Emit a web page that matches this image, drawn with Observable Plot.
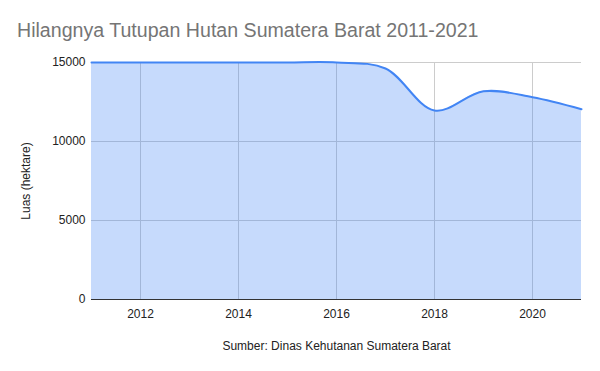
<!DOCTYPE html>
<html>
<head>
<meta charset="utf-8">
<script src="https://cdn.jsdelivr.net/npm/d3@7"></script>
<script src="https://cdn.jsdelivr.net/npm/@observablehq/plot@0.6"></script>
<style>
  body { margin: 0; background: #fff; }
  #wrap { position: relative; width: 600px; height: 371px; }
  #title { position: absolute; left: 17px; top: 19px; font-family: "Liberation Sans", Arial, sans-serif; font-size: 19.6px; color: #757575; white-space: nowrap; }
</style>
</head>
<body>
<div id="wrap">
  <div id="chart"></div>
  <div id="title">Hilangnya Tutupan Hutan Sumatera Barat 2011-2021</div>
</div>
<script>
const years = [2011, 2012, 2013, 2014, 2015, 2016, 2017, 2018, 2019, 2020, 2021];
const luas  = [15000, 15000, 15000, 15000, 15000, 15000, 14620, 11960, 13180, 12800, 12040];
const xTicks = [2012, 2014, 2016, 2018, 2020];
const yTicks = [0, 5000, 10000, 15000];

const data = years.map((year, i) => ({ year, luas: luas[i] }));

const chart = Plot.plot({
  width: 600,
  height: 371,
  marginTop: 62,
  marginBottom: 72,
  marginLeft: 91,
  marginRight: 19,
  style: { fontFamily: "'Liberation Sans', Arial, sans-serif", fontSize: "12px", color: "#222", background: "#fff" },
  x: { domain: [2011, 2021] },
  y: { domain: [0, 15000] },
  marks: [
    Plot.gridY(yTicks, { stroke: "#cccccc", strokeOpacity: 1 }),
    Plot.gridX(xTicks, { stroke: "#cccccc", strokeOpacity: 1 }),
    Plot.areaY(data, { x: "year", y: "luas", curve: "catmull-rom", fill: "#4285f4", fillOpacity: 0.3 }),
    Plot.lineY(data, { x: "year", y: "luas", curve: "catmull-rom", stroke: "#4285f4", strokeWidth: 2 }),
    Plot.ruleY([0], { stroke: "#333333" }),
    Plot.axisX(xTicks, { tickSize: 0, tickPadding: 10, tickFormat: d => String(d), label: "Sumber: Dinas Kehutanan Sumatera Barat", labelAnchor: "center", labelArrow: "none", labelOffset: 50, fill: "#222" }),
    Plot.axisY(yTicks, { tickSize: 0, tickPadding: 6, tickFormat: d => String(d), label: "Luas (hektare)", labelAnchor: "center", labelArrow: "none", labelOffset: 70, fill: "#222" })
  ]
});
document.getElementById("chart").appendChild(chart);
</script>
</body>
</html>
